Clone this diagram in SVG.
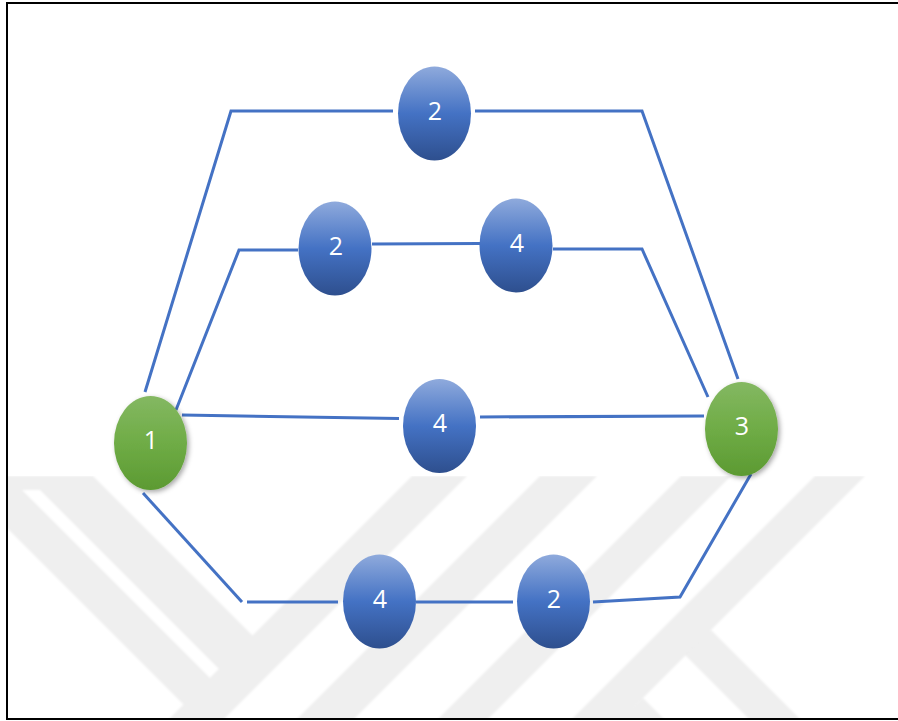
<svg xmlns="http://www.w3.org/2000/svg" width="898" height="721" viewBox="0 0 898 721">
  <style>
    .wm { fill: #efefef; }
    .slot { fill: #ffffff; }
    .edge { fill: none; stroke: #4472c4; stroke-width: 3; stroke-linejoin: miter; }
    .blue { fill: url(#gBlue); }
    .green { fill: url(#gGreen); filter: url(#shadow); }
    .lbl { font-family: "Open Sans", "Liberation Sans", sans-serif; font-size: 25px; fill: #ffffff; text-anchor: middle; }
  </style>
  <defs>
    <linearGradient id="gBlue" x1="0" y1="0" x2="0" y2="1">
      <stop offset="0" stop-color="#8faadc"/>
      <stop offset="0.5" stop-color="#4472c4"/>
      <stop offset="1" stop-color="#2e4f8e"/>
    </linearGradient>
    <linearGradient id="gGreen" x1="0" y1="0" x2="0" y2="1">
      <stop offset="0" stop-color="#84b862"/>
      <stop offset="0.5" stop-color="#6fac46"/>
      <stop offset="1" stop-color="#5c9a32"/>
    </linearGradient>
    <filter id="shadow" x="-30%" y="-30%" width="160%" height="160%">
      <feDropShadow dx="2" dy="2" stdDeviation="2.5" flood-color="#000000" flood-opacity="0.35"/>
    </filter>
    <filter id="soft" x="-5%" y="-5%" width="110%" height="110%">
      <feGaussianBlur stdDeviation="0.8"/>
    </filter>
    <clipPath id="frameClip">
      <rect x="8" y="476" width="890" height="243"/>
    </clipPath>
  </defs>

  <rect x="0" y="0" width="898" height="721" fill="#ffffff"/>

  <!-- faint logo watermark behind the graph -->
  <g id="watermark" clip-path="url(#frameClip)">
    <g filter="url(#soft)">
      <polygon class="wm" points="-45,476 93,476 252.5,635.5 211,732"/>
      <polygon class="slot" points="22,490 40,490 219,669 210,678"/>
      <polygon class="wm" points="412,476 467,476 203,740 148,740"/>
      <polygon class="wm" points="540,476 597,476 333,740 276,740"/>
      <polygon class="wm" points="681,476 731,476 467,740 417,740"/>
      <polygon class="wm" points="815,476 865,476 601,740 551,740"/>
      <polygon class="wm" points="711,630 820,739 769,739 685,655"/>
      <polygon class="wm" points="643,698 685,740 600,740"/>
    </g>
  </g>

  <!-- page frame -->
  <rect x="7" y="3" width="893" height="716" fill="none" stroke="#000000" stroke-width="2"/>

  <g id="connectors">
    <path class="edge" d="M145,392 L231,111 L393,111"/>
    <path class="edge" d="M475,111 L642,111 L738,379"/>
    <path class="edge" d="M176,410 L239,250 L298,250"/>
    <path class="edge" d="M372,244 L480,243.5"/>
    <path class="edge" d="M553,249 L642,249 L708,397"/>
    <path class="edge" d="M182,415 L399,418.5"/>
    <path class="edge" d="M480,417 L704,416"/>
    <path class="edge" d="M143,493 L242,602"/>
    <path class="edge" d="M247,602 L338,602"/>
    <path class="edge" d="M416,602 L513,602"/>
    <path class="edge" d="M593,602 L680,597 L751,474"/>
  </g>

  <g id="node-src">
    <ellipse class="green" cx="150.5" cy="443" rx="36.5" ry="47"/>
    <text class="lbl" x="151" y="449">1</text>
  </g>
  <g id="node-dst">
    <ellipse class="green" cx="741.5" cy="429" rx="36.5" ry="47"/>
    <text class="lbl" x="742" y="435">3</text>
  </g>
  <g id="node-top">
    <ellipse class="blue" cx="434.5" cy="113.5" rx="36.5" ry="47"/>
    <text class="lbl" x="435" y="119.5">2</text>
  </g>
  <g id="node-upper-a">
    <ellipse class="blue" cx="335" cy="248.5" rx="36.5" ry="47"/>
    <text class="lbl" x="336" y="255">2</text>
  </g>
  <g id="node-upper-b">
    <ellipse class="blue" cx="516" cy="245.5" rx="36.5" ry="47"/>
    <text class="lbl" x="517" y="252">4</text>
  </g>
  <g id="node-mid">
    <ellipse class="blue" cx="439.5" cy="426" rx="36.5" ry="47"/>
    <text class="lbl" x="440" y="432">4</text>
  </g>
  <g id="node-low-a">
    <ellipse class="blue" cx="379.5" cy="601.5" rx="36.5" ry="47"/>
    <text class="lbl" x="380" y="607.5">4</text>
  </g>
  <g id="node-low-b">
    <ellipse class="blue" cx="553.5" cy="601.5" rx="36.5" ry="47"/>
    <text class="lbl" x="554" y="607.5">2</text>
  </g>
</svg>
